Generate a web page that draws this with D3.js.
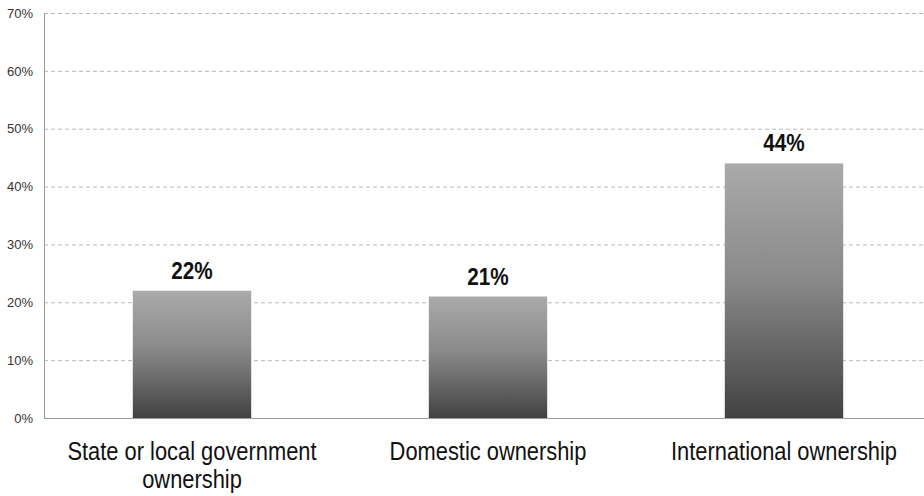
<!DOCTYPE html>
<html>
<head>
<meta charset="utf-8">
<script src="https://cdn.jsdelivr.net/npm/d3@7/dist/d3.min.js"></script>
<style>
  html, body { margin: 0; padding: 0; background: #fff; }
  svg { display: block; }
</style>
</head>
<body>
<svg id="chart" width="924" height="496"></svg>
<script>
// Share of respondents by ownership type
const categories = [["State or local government", "ownership"], ["Domestic ownership"], ["International ownership"]];
const values = [22, 21, 44];
const valueLabels = ["22%", "21%", "44%"];
const yTicks = [0, 10, 20, 30, 40, 50, 60, 70];
const yTickLabels = ["0%", "10%", "20%", "30%", "40%", "50%", "60%", "70%"];

const svg = d3.select("#chart");
const W = 924;
const plotLeft = 44, plotBottom = 418, plotTop = 13;
const FONT = "'Liberation Sans', Arial, sans-serif";

const x = d3.scaleBand()
  .domain(d3.range(categories.length))
  .range([plotLeft, 932])
  .paddingInner(0.6)
  .paddingOuter(0.3);

const y = d3.scaleLinear().domain([0, 70]).range([plotBottom, plotTop]);

const defs = svg.append("defs");
const grad = defs.append("linearGradient")
  .attr("id", "barFill").attr("x1", 0).attr("y1", 0).attr("x2", 0).attr("y2", 1);
grad.append("stop").attr("offset", "0%").attr("stop-color", "#aaaaaa");
grad.append("stop").attr("offset", "45%").attr("stop-color", "#8a8a8a");
grad.append("stop").attr("offset", "100%").attr("stop-color", "#424242");

// Dashed gridlines
svg.append("g").selectAll("line")
  .data(yTicks.filter(d => d > 0))
  .join("line")
  .attr("x1", plotLeft).attr("x2", W)
  .attr("y1", d => y(d) + 0.5).attr("y2", d => y(d) + 0.5)
  .attr("stroke", "#b8b8b8")
  .attr("stroke-dasharray", "4,3")
  .attr("stroke-width", 1);

// Y axis labels
const yAxis = d3.axisLeft(y)
  .tickValues(yTicks)
  .tickFormat((d, i) => yTickLabels[i])
  .tickSize(0)
  .tickPadding(11);
const gy = svg.append("g").attr("transform", `translate(${plotLeft},0)`).call(yAxis);
gy.select(".domain").remove();
gy.selectAll("text")
  .attr("font-family", FONT)
  .attr("font-size", 13)
  .attr("fill", "#333");

// Bars
svg.append("g").selectAll("rect")
  .data(values)
  .join("rect")
  .attr("x", (d, i) => x(i))
  .attr("y", d => y(d))
  .attr("width", x.bandwidth())
  .attr("height", d => plotBottom - y(d))
  .attr("fill", "url(#barFill)");

// Axis lines
svg.append("line")
  .attr("x1", plotLeft + 0.5).attr("x2", plotLeft + 0.5)
  .attr("y1", plotTop).attr("y2", plotBottom)
  .attr("stroke", "#999").attr("stroke-width", 1);
svg.append("line")
  .attr("x1", plotLeft).attr("x2", W)
  .attr("y1", plotBottom + 0.5).attr("y2", plotBottom + 0.5)
  .attr("stroke", "#999").attr("stroke-width", 1);

// Value labels (horizontally condensed)
svg.append("g").selectAll("g")
  .data(values)
  .join("g")
  .attr("transform", (d, i) => `translate(${x(i) + x.bandwidth() / 2},${y(d) - 12}) scale(0.9,1)`)
  .append("text")
  .attr("text-anchor", "middle")
  .attr("font-family", FONT)
  .attr("font-weight", "bold")
  .attr("font-size", 23)
  .attr("fill", "#111")
  .text((d, i) => valueLabels[i]);

// Category labels (horizontally condensed)
const cat = svg.append("g").selectAll("g")
  .data(categories)
  .join("g")
  .attr("transform", (d, i) => `translate(${x(i) + x.bandwidth() / 2},460) scale(0.875,1)`)
  .append("text")
  .attr("text-anchor", "middle")
  .attr("font-family", FONT)
  .attr("font-size", 25)
  .attr("fill", "#111");
cat.selectAll("tspan")
  .data(d => d)
  .join("tspan")
  .attr("x", 0)
  .attr("dy", (d, i) => i === 0 ? 0 : 28)
  .text(d => d);
</script>
</body>
</html>
